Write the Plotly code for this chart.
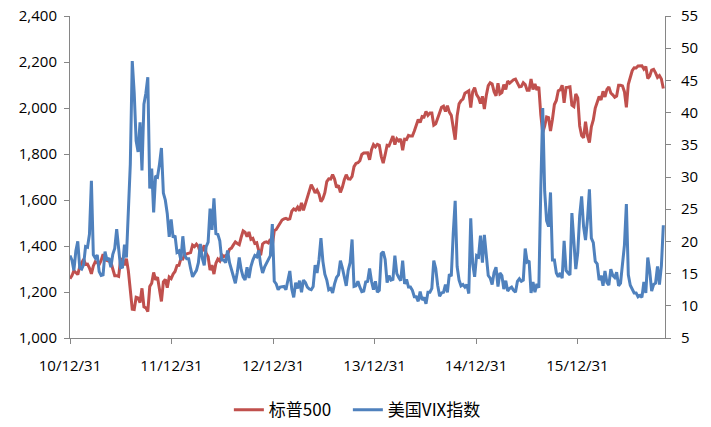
import pandas as pd
import plotly.graph_objects as go

# Weekly (Friday) observations, 2010-12-31 .. 2016-11-04
dates = pd.date_range("2010-12-31", "2016-11-04", freq="7D")

tick_dates = ["2010-12-31", "2011-12-31", "2012-12-31", "2013-12-31", "2014-12-31", "2015-12-31"]
tick_labels = ["10/12/31", "11/12/31", "12/12/31", "13/12/31", "14/12/31", "15/12/31"]

series_names = ["标普500", "美国VIX指数"]

spx_2010 = [1258]
spx_2011 = [1271, 1293, 1283, 1276,
            1310, 1329, 1343, 1320,
            1321, 1304, 1279, 1313,
            1332, 1328, 1320, 1337, 1364,
            1340, 1338, 1333, 1331,
            1300, 1271, 1271, 1268,
            1340, 1344, 1316, 1345, 1292,
            1199, 1125, 1124, 1177,
            1174, 1154, 1216, 1136, 1131,
            1115, 1224, 1238, 1285,
            1253, 1264, 1216, 1159,
            1244, 1255, 1219, 1265, 1258]
spx_2012 = [1278, 1289, 1315, 1316,
            1345, 1343, 1362, 1366,
            1370, 1371, 1404, 1397, 1408,
            1398, 1370, 1379, 1403,
            1369, 1353, 1295, 1317,
            1278, 1325, 1343, 1335, 1362,
            1354, 1357, 1363, 1386,
            1391, 1405, 1418, 1411, 1406,
            1438, 1466, 1460, 1441,
            1461, 1429, 1433, 1411,
            1414, 1380, 1360, 1409, 1416,
            1418, 1413, 1430, 1402]
spx_2013 = [1466, 1472, 1486, 1503,
            1513, 1518, 1520, 1516,
            1518, 1551, 1561, 1556, 1569,
            1553, 1588, 1555, 1582,
            1614, 1633, 1667, 1650, 1631,
            1643, 1626, 1593, 1606,
            1632, 1680, 1692, 1691,
            1710, 1691, 1655, 1664, 1633,
            1655, 1688, 1710, 1692,
            1691, 1703, 1745, 1759,
            1762, 1771, 1798, 1804, 1806,
            1805, 1775, 1819, 1841]
spx_2014 = [1831, 1842, 1838, 1790, 1760,
            1797, 1838, 1836, 1859,
            1878, 1841, 1866, 1857,
            1865, 1816, 1864, 1863,
            1881, 1878, 1878, 1900, 1924,
            1950, 1937, 1963, 1961,
            1985, 1968, 1978, 1978,
            1925, 1931, 1955, 1988, 2003,
            2008, 1985, 2010, 1982,
            1968, 1906, 1862, 1965, 2018,
            2032, 2039, 2064, 2068,
            2075, 2002, 2071, 2089]
spx_2015 = [2058, 2045, 2019, 2051, 1995,
            2055, 2097, 2110, 2105,
            2071, 2053, 2108, 2061,
            2067, 2102, 2081, 2117,
            2108, 2116, 2123, 2126, 2107,
            2092, 2094, 2110, 2102,
            2077, 2077, 2126, 2080, 2104,
            2078, 2092, 1971, 1893,
            1921, 1961, 1958, 1900,
            1951, 2015, 2033, 2075, 2079,
            2099, 2023, 2089, 2090,
            2092, 2012, 2006, 2061]
spx_2016 = [2044, 1922, 1880, 1870, 1940,
            1880, 1850, 1918, 1948,
            2000, 2022, 2050, 2035,
            2073, 2048, 2081, 2092, 2065,
            2057, 2047, 2052, 2099,
            2099, 2096, 2071, 2003,
            2103, 2130, 2162, 2175, 2174,
            2183, 2184, 2184, 2169,
            2180, 2128, 2139, 2165, 2168,
            2153, 2133, 2141, 2126,
            2085]

vix_2010 = [17.8]
vix_2011 = [17.1, 15.5, 18.5, 20.0,
            15.9, 15.7, 16.4, 19.2,
            19.1, 21.1, 29.4, 17.9,
            17.4, 17.9, 15.3, 14.7, 14.8,
            18.4, 17.1, 17.4, 16.0,
            18.0, 18.9, 21.9, 19.3,
            15.9, 16.0, 19.5, 17.5, 25.3,
            32.0, 48.0, 43.1, 35.6,
            33.9, 38.5, 31.0, 41.3, 43.0,
            45.5, 28.2, 31.3, 24.5,
            30.2, 30.0, 32.0, 34.5,
            27.5, 26.4, 24.3, 20.7, 23.4]
vix_2012 = [20.6, 20.9, 18.3, 18.5,
            17.1, 20.8, 17.8, 17.3,
            17.3, 15.8, 14.5, 15.0, 15.5,
            16.7, 19.6, 17.4, 16.3,
            19.2, 19.9, 25.1, 21.8,
            26.7, 21.2, 21.1, 20.1, 17.1,
            17.1, 16.7, 18.6, 16.7,
            15.6, 14.7, 13.5, 15.2, 17.5,
            15.6, 14.5, 14.0, 16.0,
            14.3, 16.1, 17.1, 17.8,
            17.6, 18.6, 16.4, 15.1, 16.0,
            16.6, 17.0, 17.8, 22.7]
vix_2013 = [13.8, 13.4, 12.5, 12.9,
            12.9, 13.0, 12.5, 14.0,
            15.4, 12.6, 11.3, 13.6, 12.7,
            13.9, 12.1, 14.0, 13.6,
            12.9, 12.6, 12.5, 13.0, 16.3,
            15.1, 17.2, 20.5, 16.9,
            14.9, 14.0, 12.5, 12.7,
            12.0, 13.4, 14.4, 14.8, 17.0,
            15.9, 14.2, 13.1, 15.5,
            16.7, 20.3, 13.0, 13.1,
            13.8, 12.9, 12.2, 12.3, 13.7,
            13.8, 15.8, 13.8, 12.5]
vix_2014 = [13.8, 12.1, 12.4, 18.1, 18.4,
            17.2, 13.6, 14.7, 14.0,
            14.1, 17.8, 15.0, 14.4,
            13.9, 17.0, 13.4, 14.1,
            12.9, 12.9, 12.4, 11.4, 11.4,
            10.7, 12.2, 10.9, 11.3,
            10.3, 12.1, 12.1, 12.7,
            17.0, 15.8, 13.2, 11.5, 12.0,
            12.1, 13.3, 12.1, 14.9,
            14.6, 21.2, 26.3, 16.1, 14.0,
            13.1, 13.3, 12.9, 13.3,
            11.9, 23.6, 16.5, 14.5]
vix_2015 = [17.8, 17.6, 20.9, 16.7, 21.0,
            17.3, 14.7, 14.3, 13.3,
            15.2, 16.0, 13.0, 15.1,
            14.7, 12.6, 13.9, 12.3,
            12.7, 12.9, 12.4, 12.1, 13.8,
            14.2, 13.8, 14.0, 18.9,
            16.8, 17.0, 12.0, 13.7, 12.1,
            13.4, 12.8, 28.0, 40.7,
            27.8, 23.2, 22.3, 27.6,
            17.1, 17.1, 15.1, 14.5, 15.1,
            14.3, 20.1, 15.5, 15.1,
            14.8, 24.4, 20.7, 15.7]
vix_2016 = [18.2, 24.0, 27.0, 22.3, 20.2,
            23.4, 28.1, 20.5, 19.8,
            16.9, 16.5, 14.0, 14.7,
            13.1, 15.4, 13.6, 13.2, 15.7,
            14.7, 14.4, 15.2, 13.1,
            13.5, 17.0, 19.4, 25.8,
            14.8, 13.2, 12.7, 12.0, 12.0,
            11.4, 11.6, 11.3, 13.7,
            12.0, 17.5, 15.4, 12.3, 13.3,
            13.5, 16.1, 13.3, 16.2,
            22.5]

spx = spx_2010 + spx_2011 + spx_2012 + spx_2013 + spx_2014 + spx_2015 + spx_2016
vix = vix_2010 + vix_2011 + vix_2012 + vix_2013 + vix_2014 + vix_2015 + vix_2016
assert len(spx) == len(dates), (len(spx), len(dates))
assert len(vix) == len(dates), (len(vix), len(dates))

left_ticks = [1000, 1200, 1400, 1600, 1800, 2000, 2200, 2400]
right_ticks = [5, 10, 15, 20, 25, 30, 35, 40, 45, 50, 55]

RED = "#C0504D"
BLUE = "#4F81BD"
AXIS = "#868686"
NUMFONT = dict(family="Open Sans, Liberation Sans, sans-serif", size=15, color="#000000")
LEGFONT = dict(family="Noto Sans CJK SC, sans-serif", size=17, color="#000000")

fig = go.Figure()
fig.add_trace(go.Scatter(x=dates, y=spx, name=series_names[0], mode="lines",
                         line=dict(color=RED, width=3), yaxis="y", legend="legend"))
fig.add_trace(go.Scatter(x=dates, y=vix, name=series_names[1], mode="lines",
                         line=dict(color=BLUE, width=3), yaxis="y2", legend="legend2"))

fig.update_layout(
    width=711, height=427,
    margin=dict(l=70, r=46, t=16, b=89, autoexpand=False),
    paper_bgcolor="white", plot_bgcolor="white",
    showlegend=True,
    legend=dict(orientation="h", x=0.267, xanchor="left", y=-0.224, yanchor="middle",
                font=LEGFONT, itemwidth=30, bgcolor="rgba(0,0,0,0)"),
    legend2=dict(orientation="h", x=0.467, xanchor="left", y=-0.224, yanchor="middle",
                 font=LEGFONT, itemwidth=30, bgcolor="rgba(0,0,0,0)"),
    xaxis=dict(type="date", range=["2010-12-31", "2016-11-10"],
               tickvals=tick_dates, ticktext=tick_labels,
               showgrid=False, zeroline=False,
               showline=True, linecolor=AXIS, linewidth=1,
               ticks="outside", ticklen=5, tickcolor=AXIS,
               tickfont=NUMFONT, automargin=False, ticklabelstandoff=9),
    yaxis=dict(range=[1000, 2400], tickvals=left_ticks, tickformat=",",
               showgrid=False, zeroline=False,
               showline=True, linecolor=AXIS, linewidth=1,
               ticks="outside", ticklen=5, tickcolor=AXIS,
               tickfont=NUMFONT, automargin=False, ticklabelstandoff=4),
    yaxis2=dict(range=[5, 55], tickvals=right_ticks, overlaying="y", side="right",
                showgrid=False, zeroline=False,
                showline=True, linecolor=AXIS, linewidth=1,
                ticks="outside", ticklen=5, tickcolor=AXIS,
                tickfont=NUMFONT, automargin=False, ticklabelstandoff=7),
)

fig.write_html("out.html", config={"displayModeBar": False},
               post_script="document.body.style.margin='0';document.body.style.overflow='hidden';")
